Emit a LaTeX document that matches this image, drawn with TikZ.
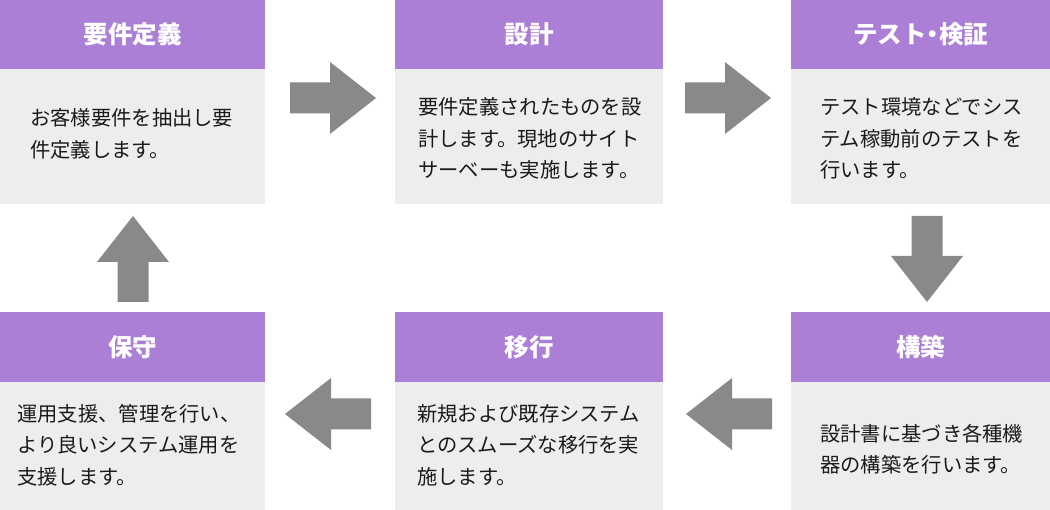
\documentclass[tikz,border=0pt]{standalone}
\usepackage{fontspec}
\setmainfont{Noto Sans CJK JP}
\usetikzlibrary{calc}
\definecolor{hdr}{HTML}{AB7FD6}
\definecolor{bodybg}{HTML}{EDEDED}
\definecolor{arrowgray}{HTML}{898989}
\definecolor{txt}{HTML}{1A1A1A}
\tikzset{
  hdrbox/.style={fill=hdr, draw=none, anchor=north west, inner sep=0pt,
    text=white, font=\fontsize{24.5}{28}\selectfont\bfseries},
  bodybox/.style={fill=bodybg, draw=none, anchor=north west, inner sep=0pt},
  bodytext/.style={anchor=west, inner sep=0pt, align=left, text=txt,
    font=\fontsize{20.3}{31.5}\selectfont},
  blockarrow/.pic={\fill[arrowgray] (0,-15.5) -- (40,-15.5) -- (40,-36) -- (86,0)
     -- (40,36) -- (40,15.5) -- (0,15.5) -- cycle;}
}
\begin{document}
\begin{tikzpicture}[x=1pt,y=-1pt]
\useasboundingbox (0,0) rectangle (1050,510);
% top row
\node[bodybox, minimum width=265pt, minimum height=136pt] (b1) at (0,68) {};
\node[hdrbox, minimum width=265pt, minimum height=69pt] (h1) at (0,0) {要件定義};
\node[bodytext] (t1) at (30,134) {お客様要件を抽出し要\\件定義します。};

\node[bodybox, minimum width=268pt, minimum height=136pt] (b2) at (395,68) {};
\node[hdrbox, minimum width=268pt, minimum height=69pt] (h2) at (395,0) {設計};
\node[bodytext] (t2) at (418,138.5) {要件定義されたものを設\\計します。現地のサイト\\サーベーも実施します。};

\node[bodybox, minimum width=259pt, minimum height=136pt] (b3) at (791,68) {};
\node[hdrbox, minimum width=259pt, minimum height=69pt] (h3) at (791,0) {テスト\kern-0.25em・\kern-0.25em検証};
\node[bodytext] (t3) at (820,138.5) {テスト環境などでシス\\テム稼動前のテストを\\行います。};

% bottom row
\node[bodybox, minimum width=265pt, minimum height=129pt] (b6) at (0,381) {};
\node[hdrbox, minimum width=265pt, minimum height=70pt] (h6) at (0,312) {保守};
\node[bodytext] (t6) at (17,445) {運用支援、管理を行い、\\より良いシステム運用を\\支援します。};

\node[bodybox, minimum width=268pt, minimum height=129pt] (b5) at (395,381) {};
\node[hdrbox, minimum width=268pt, minimum height=70pt] (h5) at (395,312) {移行};
\node[bodytext] (t5) at (417,445) {新規および既存システム\\とのスムーズな移行を実\\施します。};

\node[bodybox, minimum width=259pt, minimum height=129pt] (b4) at (791,381) {};
\node[hdrbox, minimum width=259pt, minimum height=70pt] (h4) at (791,312) {構築};
\node[bodytext] (t4) at (820,449) {設計書に基づき各種機\\器の構築を行います。};

% arrows
\pic at (290,98) {blockarrow};
\pic at (685,98) {blockarrow};
\pic[rotate=-90] at (927,216) {blockarrow};
\pic[rotate=180] at (772,414) {blockarrow};
\pic[rotate=180] at (371,414) {blockarrow};
\pic[rotate=90] at (133,302) {blockarrow};
\end{tikzpicture}
\end{document}
